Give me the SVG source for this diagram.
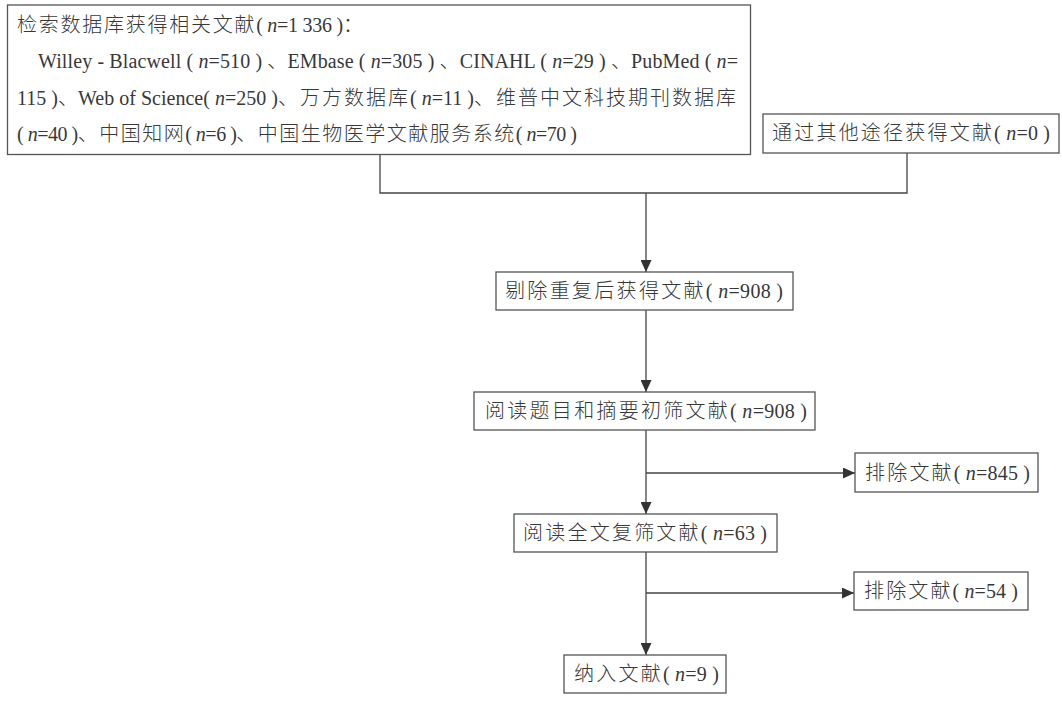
<svg xmlns="http://www.w3.org/2000/svg" width="1062" height="702" viewBox="0 0 1062 702">
<style>
.box{fill:#fff;stroke:#555;stroke-width:1.3}
.t{font-family:"Liberation Serif","Noto Sans CJK SC",serif;font-size:20px;fill:#383838;font-weight:300}
.k{letter-spacing:2px}
.i{font-style:italic}
.c{stroke:#444;stroke-width:1.3;fill:none}
</style>
<defs>
<marker id="ah" markerUnits="userSpaceOnUse" markerWidth="12" markerHeight="11" refX="12" refY="5.5" orient="auto">
<path d="M0,0 L12,5.5 L0,11 Z" fill="#333"/>
</marker>
</defs>
<rect width="1062" height="702" fill="#fff"/>
<g id="connectors">
<path class="c" d="M380,154.5 V193 H907 V153"/>
<path class="c" d="M646,193 V272" marker-end="url(#ah)"/>
<path class="c" d="M646,310 V392" marker-end="url(#ah)"/>
<path class="c" d="M646,430 V514" marker-end="url(#ah)"/>
<path class="c" d="M646,473 H855" marker-end="url(#ah)"/>
<path class="c" d="M646,552 V655" marker-end="url(#ah)"/>
<path class="c" d="M646,593 H854" marker-end="url(#ah)"/>
</g>
<g id="n1">
<rect class="box" x="7.5" y="5" width="743" height="149.5"/>
<text class="t" x="17" y="32" textLength="346" lengthAdjust="spacing"><tspan class="k">检索数据库获得相关文献</tspan>( <tspan class="i">n</tspan>=1 336 )：</text>
<text class="t" x="38" y="68" textLength="700" lengthAdjust="spacing">Willey - Blacwell ( <tspan class="i">n</tspan>=510 ) 、EMbase ( <tspan class="i">n</tspan>=305 ) 、CINAHL ( <tspan class="i">n</tspan>=29 ) 、PubMed ( <tspan class="i">n</tspan>=</text>
<text class="t" x="17" y="104.5" textLength="721" lengthAdjust="spacing">115 )、Web of Science( <tspan class="i">n</tspan>=250 )<tspan class="k">、万方数据库</tspan>( <tspan class="i">n</tspan>=11 )<tspan class="k">、维普中文科技期刊数据库</tspan></text>
<text class="t" x="17" y="141" textLength="560" lengthAdjust="spacing">( <tspan class="i">n</tspan>=40 )<tspan class="k">、中国知网</tspan>( <tspan class="i">n</tspan>=6 )<tspan class="k">、中国生物医学文献服务系统</tspan>( <tspan class="i">n</tspan>=70 )</text>
</g>
<g id="n2">
<rect class="box" x="763" y="114" width="296" height="39"/>
<text class="t" x="772" y="140" textLength="278" lengthAdjust="spacing"><tspan class="k">通过其他途径获得文献</tspan>( <tspan class="i">n</tspan>=0 )</text>
</g>
<g id="n3">
<rect class="box" x="496" y="272" width="297" height="38"/>
<text class="t" x="505" y="298" textLength="278" lengthAdjust="spacing"><tspan class="k">剔除重复后获得文献</tspan>( <tspan class="i">n</tspan>=908 )</text>
</g>
<g id="n4">
<rect class="box" x="474" y="392" width="341" height="38"/>
<text class="t" x="485" y="418" textLength="322" lengthAdjust="spacing"><tspan class="k">阅读题目和摘要初筛文献</tspan>( <tspan class="i">n</tspan>=908 )</text>
</g>
<g id="n5">
<rect class="box" x="855" y="453" width="183" height="39"/>
<text class="t" x="865" y="480" textLength="165" lengthAdjust="spacing"><tspan class="k">排除文献</tspan>( <tspan class="i">n</tspan>=845 )</text>
</g>
<g id="n6">
<rect class="box" x="514" y="514" width="263" height="38"/>
<text class="t" x="523" y="540" textLength="244" lengthAdjust="spacing"><tspan class="k">阅读全文复筛文献</tspan>( <tspan class="i">n</tspan>=63 )</text>
</g>
<g id="n7">
<rect class="box" x="854" y="572" width="174" height="38"/>
<text class="t" x="864" y="598" textLength="154" lengthAdjust="spacing"><tspan class="k">排除文献</tspan>( <tspan class="i">n</tspan>=54 )</text>
</g>
<g id="n8">
<rect class="box" x="564" y="655" width="162" height="38"/>
<text class="t" x="574" y="681" textLength="145" lengthAdjust="spacing"><tspan class="k">纳入文献</tspan>( <tspan class="i">n</tspan>=9 )</text>
</g>
</svg>
